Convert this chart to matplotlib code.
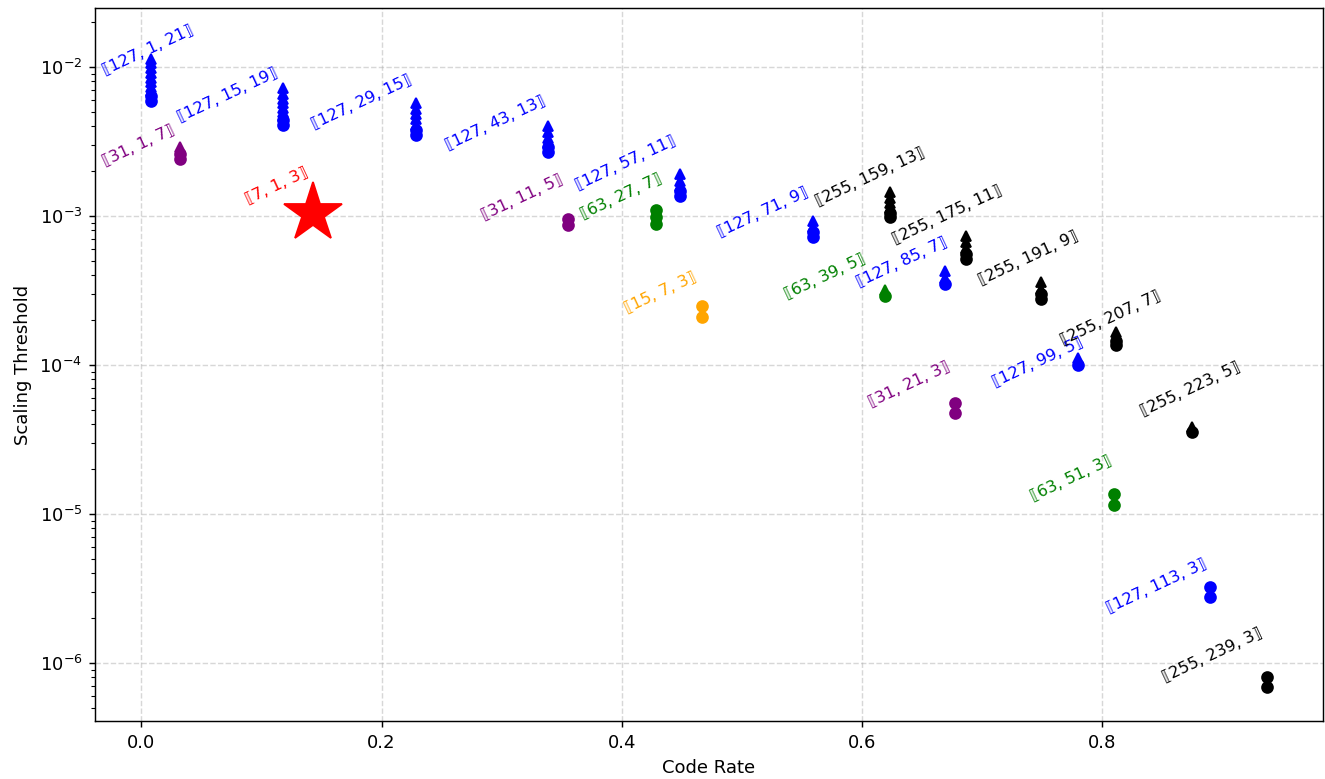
import matplotlib
matplotlib.use("Agg")
import matplotlib.pyplot as plt

# ---------- DATA ----------
# quantum BCH codes [[n, k, d]]
n_vals = [15, 31, 31, 31, 63, 63, 63,
          127, 127, 127, 127, 127, 127, 127, 127, 127,
          255, 255, 255, 255, 255, 255]
k_vals = [7, 1, 11, 21, 27, 39, 51,
          1, 15, 29, 43, 57, 71, 85, 99, 113,
          159, 175, 191, 207, 223, 239]
d_vals = [3, 7, 5, 3, 7, 5, 3,
          21, 19, 15, 13, 11, 9, 7, 5, 3,
          13, 11, 9, 7, 5, 3]

# circle markers (bottom of each stack)
circle_vals = [
    [2.49e-4, 2.10e-4],
    [2.41e-3, 2.61e-3],
    [9.55e-4, 8.7e-4],
    [5.56e-5, 4.80e-5],
    [1.10e-3, 9.9e-4, 8.9e-4],
    [2.90e-4],
    [1.36e-5, 1.15e-5],
    [5.9e-3, 6.4e-3],
    [4.08e-3, 4.4e-3],
    [3.5e-3, 3.8e-3],
    [2.69e-3, 2.9e-3],
    [1.37e-3, 1.47e-3],
    [7.2e-4, 7.8e-4],
    [3.5e-4],
    [1.0e-4],
    [3.25e-6, 2.79e-6],
    [9.8e-4, 1.05e-3],
    [5.14e-4, 5.6e-4],
    [2.77e-4, 2.98e-4],
    [1.37e-4, 1.45e-4],
    [3.55e-5],
    [8.05e-7, 6.9e-7],
]
# triangle markers (upper part of each stack)
triangle_vals = [
    [],
    [2.90e-3],
    [],
    [],
    [],
    [3.18e-4],
    [],
    [6.9e-3, 7.4e-3, 7.9e-3, 8.5e-3, 9.1e-3, 9.8e-3, 1.06e-2, 1.14e-2],
    [4.7e-3, 5.0e-3, 5.35e-3, 5.7e-3, 6.1e-3, 6.6e-3, 7.2e-3],
    [4.1e-3, 4.45e-3, 4.85e-3, 5.25e-3, 5.73e-3],
    [3.1e-3, 3.35e-3, 3.65e-3, 4.02e-3],
    [1.58e-3, 1.73e-3, 1.90e-3],
    [8.5e-4, 9.2e-4],
    [3.85e-4, 4.26e-4],
    [1.11e-4],
    [],
    [1.13e-3, 1.22e-3, 1.33e-3, 1.46e-3],
    [6.1e-4, 6.65e-4, 7.31e-4],
    [3.25e-4, 3.59e-4],
    [1.66e-4],
    [3.84e-5],
    [],
]

# Steane code, drawn as a star
star_code = (7, 1, 3)
star_val = 1.04e-3

colors = {7: "red", 15: "orange", 31: "purple", 63: "green", 127: "blue", 255: "black"}

# label offsets (pixels) of the label centre from the top marker of each stack
label_offsets = [
    (-41, 13), (-42, 1), (-45, 22), (-46, 19), (-35, 13), (-60, 14), (-43, 16),
    (-3, 8), (-56, -7), (-54, 1), (-53, 3), (-55, 11), (-50, 9), (-43, 9), (-40, -4), (-54, 1),
    (-20, 15), (-18, 21), (-13, 24), (-6, 14), (-1, 38), (-55, 22),
]
star_label_offset = (-36, 28)


def code_label(n, k, d):
    return f"\u27e6{n}, {k}, {d}\u27e7"


fig = plt.figure(figsize=(1325 / 130, 779 / 130), dpi=130)
ax = fig.add_axes([95 / 1325, 58 / 779, 1228 / 1325, 713 / 779])

for i, n in enumerate(n_vals):
    rate = k_vals[i] / n
    c = colors[n]
    circ = circle_vals[i]
    tri = triangle_vals[i]
    ax.plot([rate] * len(circ), circ, "o", color=c, ms=6, linestyle="none")
    if tri:
        ax.plot([rate] * len(tri), tri, "^", color=c, ms=6, linestyle="none")
    top = max(circ + tri)
    dx, dy = label_offsets[i]
    ax.annotate(code_label(n, k_vals[i], d_vals[i]), (rate, top),
                xytext=(dx, dy), textcoords="offset pixels",
                ha="center", va="center", rotation=25, color=c, fontsize=9)

sn, sk, sd = star_code
ax.plot([sk / sn], [star_val], "*", color=colors[sn], ms=34, linestyle="none")
ax.annotate(code_label(sn, sk, sd), (sk / sn, star_val),
            xytext=star_label_offset, textcoords="offset pixels",
            ha="center", va="center", rotation=25, color=colors[sn], fontsize=9)

ax.set_yscale("log")
ax.set_ylim(4.08e-7, 2.49e-2)
ax.set_xlabel("Code Rate")
ax.set_ylabel("Scaling Threshold")
ax.grid(True, which="major", linestyle="--", alpha=0.5)

fig.savefig("out.png", dpi=130)
